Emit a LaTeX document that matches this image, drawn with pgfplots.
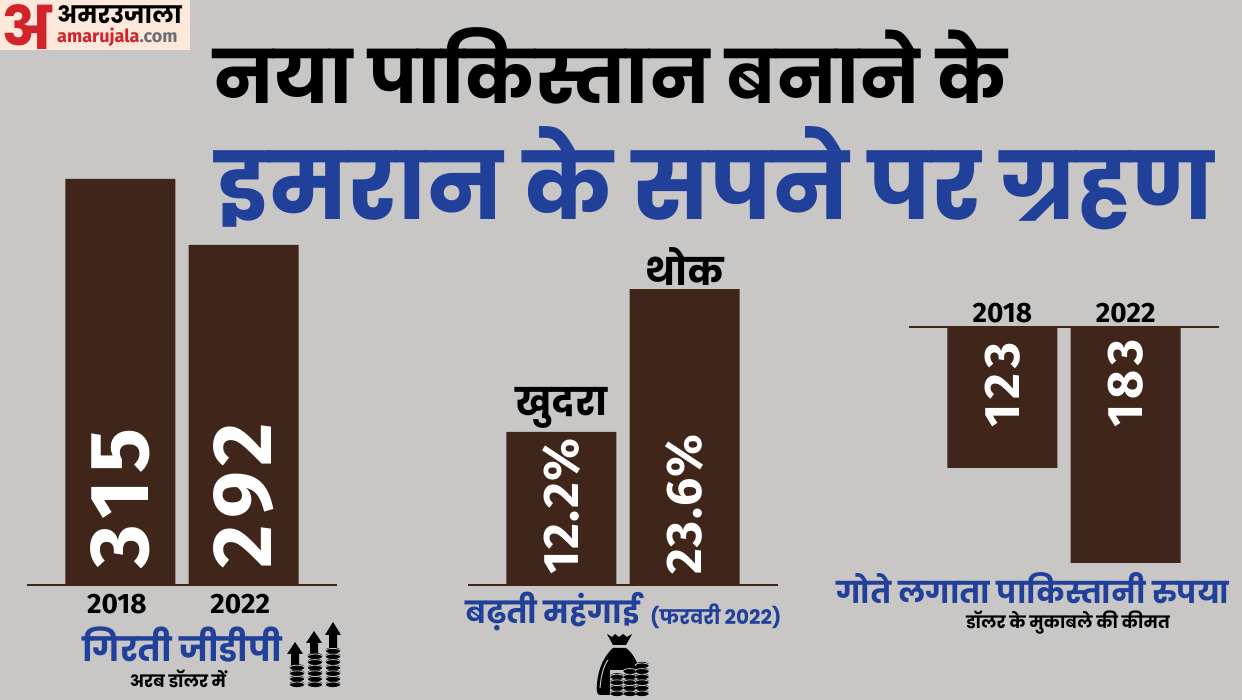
\documentclass[border=0pt]{standalone}
\usepackage{pgfplots}
\pgfplotsset{compat=1.18}
\usepackage{fontspec}
\setmainfont{Fira Sans}
\newfontfamily\hi[Script=Devanagari]{Poppins}
\newfontfamily\nums{Fira Sans}
\newfontfamily\numsA[LetterSpace=8]{Fira Sans}
\newfontfamily\numsB[LetterSpace=3]{Fira Sans}
\newfontfamily\numsC[LetterSpace=10]{Fira Sans}
\definecolor{bg}{HTML}{C8C7C5}
\definecolor{bar}{HTML}{40261A}
\definecolor{hblue}{HTML}{21409A}
\definecolor{lred}{HTML}{D2232A}
\definecolor{logobg}{HTML}{FCE9DC}
\definecolor{lgray}{HTML}{6D6E70}
\newcommand{\fsz}[1]{\fontsize{#1}{#1}\selectfont}
\pgfplotsset{
  barax/.style={
    scale only axis, width=310pt,
    axis y line=none, axis x line=bottom,
    every outer x axis line/.append style={-},
    every inner x axis line/.append style={-},
    x axis line style={-,draw=bar,line width=1.5pt},
    xtick=data, xticklabels={2018,2022},
    major tick length=0pt,
    xmin=-0.756, xmax=1.756,
    ybar, bar width=110pt, bar shift=0pt,
    ticklabel style={font=\nums\bfseries\fsz{28}, text=black},
    clip=false,
  },
  barpl/.style={fill=bar, draw=none},
}
\newcommand{\coins}[4]{% x, bottom y, n, half-width
  \foreach \i in {1,...,#3}{
    \fill[black] (#1,#2-5.6*\i+1.6) ellipse ({#4} and 3.1);
    \draw[bg,line width=0.8pt] (#1-#4,#2-5.6*\i+2.2) arc[start angle=180,end angle=360,x radius=#4,y radius=2.6];
  }
}
\newcommand{\uparr}[5]{% x, tip y, head base y, shaft bottom, halfwidth
  \fill[black] (#1,#2)--(#1+#5,#3)--(#1+4,#3)--(#1+4,#4)--(#1-4,#4)--(#1-4,#3)--(#1-#5,#3)--cycle;
}
\begin{document}
\begin{tikzpicture}
\fill[bg] (0pt,0pt) rectangle (1242pt,700pt);
\useasboundingbox (0pt,0pt) rectangle (1242pt,700pt);

% GDP
\begin{axis}[barax, at={(27pt,115pt)}, anchor=south west, height=420pt,
  ymin=173.5, ymax=319.8,
  xticklabel style={xshift=-3.5pt, yshift=-6pt}]
\addplot[barpl] coordinates {(0,315) (1,292)};
\node[rotate=90,anchor=west,text=white,font=\numsA\bfseries\fsz{84},xshift=-1.5pt] at (axis cs:0,178.7) {315};
\node[rotate=90,anchor=west,text=white,font=\numsA\bfseries\fsz{84},xshift=-1.5pt] at (axis cs:1,178.7) {292};
\end{axis}

% Inflation
\begin{axis}[barax, at={(468pt,115pt)}, anchor=south west, height=300pt,
  ymin=0, ymax=23.92, xticklabels={,},
  nodes near coords, point meta=explicit symbolic,
  nodes near coords style={font=\hi\bfseries\fsz{38}, text=black, anchor=south, inner sep=3pt}]
\addplot[barpl] coordinates {(0,12.2) [खुदरा] (1,23.6) [थोक]};
\node[rotate=90,anchor=west,text=white,font=\numsB\bfseries\fsz{50}] at (axis cs:0,0.56) {12.2\%};
\node[rotate=90,anchor=west,text=white,font=\numsB\bfseries\fsz{50}] at (axis cs:1,0.56) {23.6\%};
\end{axis}

% Rupee
\begin{axis}[barax, at={(909pt,373pt)}, anchor=north west, height=240pt,
  axis x line=top,
  x axis line style={-,draw=bar,line width=1.5pt},
  y dir=reverse, ymin=34, ymax=185.6,
  xticklabel pos=top]
\addplot[barpl] coordinates {(0,123) (1,183)};
\node[rotate=90,anchor=west,text=white,font=\numsC\bfseries\fsz{50}] at (axis cs:0,99.7) {123};
\node[rotate=90,anchor=west,text=white,font=\numsC\bfseries\fsz{50}] at (axis cs:1,99.7) {183};
\end{axis}

\begin{scope}[x=1pt,y=-1pt,shift={(0pt,700pt)}]
% logo
\fill[logobg] (0,0) rectangle (190,50);
\node[text=lred,font=\hi\bfseries\fsz{60},anchor=center] at (27,27) {अ};
\node[text=black,font=\hi\bfseries\fsz{24},anchor=west,inner sep=0pt,text height=14pt,text depth=4pt] at (57,19) {अमरउजाला};
\node[anchor=west,inner sep=0pt,font=\nums\bfseries\fsz{18}] at (57,37) {\textcolor{lred}{amarujala}\textcolor{lgray}{.com}};
% titles
\node[text=black,font=\hi\bfseries\fsz{73.5},anchor=center] at (610,66) {नया पाकिस्तान बनाने के};
\node[text=hblue,font=\hi\bfseries\fsz{93},anchor=center] at (715,178) {इमरान के सपने पर ग्रहण};
% captions
\node[text=hblue,font=\hi\bfseries\fsz{33.5}] at (182,645) {गिरती जीडीपी};
\node[text=black,font=\hi\bfseries\fsz{17}] at (178,679) {अरब डॉलर में};
\node[text=hblue,font=\hi\bfseries\fsz{30.5},anchor=west,inner sep=0pt] at (465,612) {बढ़ती महंगाई};
\node[text=hblue,font=\hi\bfseries\fsz{20},anchor=west,inner sep=0pt] at (650,616) {(फरवरी 2022)};
\node[text=hblue,font=\hi\bfseries\fsz{30}] at (1033,588) {गोते लगाता पाकिस्तानी रुपया};
\node[text=black,font=\hi\bfseries\fsz{17}] at (1068,623) {डॉलर के मुकाबले की कीमत};
% icon: coins and arrows
\uparr{295}{642}{654}{665}{8}
\uparr{314}{631}{643}{655}{8}
\uparr{333}{622}{635}{650}{8}
\coins{297}{688}{4}{7.5}
\coins{315}{688}{6}{7.5}
\coins{333}{688}{7}{7.5}
% icon: money bag
\fill[black] (607,634) -- (612,637) -- (615,634) -- (619,637) -- (623,634) -- (627,637) -- (632,634)
  -- (626,645) -- (613,645) -- cycle;
\fill[black] (613,648) -- (626,648)
  .. controls (636,655) and (642,672) .. (642,690) -- (640,695) -- (600,695)
  .. controls (597,695) and (596,690) .. (597,684)
  .. controls (598,668) and (605,655) .. (613,648) -- cycle;
\draw[bg,line width=1pt] (608,660) .. controls (604,665) and (601,675) .. (600,688);
\fill[bg] (610,670) rectangle (650,700);
\coins{617}{697}{4}{7}
\coins{630}{697}{5}{7}
\coins{642}{697}{6}{7}
\end{scope}
\end{tikzpicture}
\end{document}
